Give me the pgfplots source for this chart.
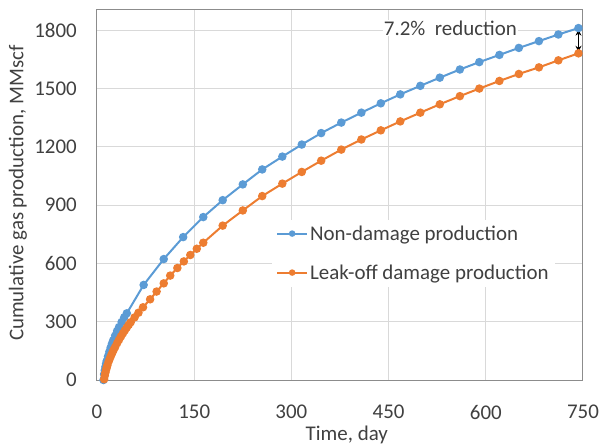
\documentclass[border=0pt]{standalone}
\usepackage{fontspec}
\setmainfont{Carlito}
\usepackage{pgfplots}
\pgfplotsset{compat=1.18}
\usetikzlibrary{arrows.meta}

\definecolor{seriesblue}{HTML}{5B9BD5}
\definecolor{seriesorange}{HTML}{ED7D31}
\definecolor{gridgray}{HTML}{D9D9D9}
\definecolor{textgray}{HTML}{404040}

\pgfplotstableread{
t     q
10    0
11    30
12    50
13    68
14    84
15    98
17    122
19    145
21    166
23    186
25    204
28    228
31    252
34    272
38    298
42    322
46    343
72    489
103   622
133   735
164   838
194   925
225   1006
255   1083
286   1149
316   1211
346   1270
377   1324
408   1375
438   1423
468   1469
499   1513
529   1555
560   1597
590   1635
621   1672
651   1708
682   1743
712   1777
743   1810
}\nondamage

\pgfplotstableread{
t     q
11    4
12    22
13    38
14    52
15    64
16    75
18    95
20    112
22    128
24    143
26    157
28    170
31    189
34    207
37    224
40    240
43    255
46    270
49    284
52    297
58    322
64    346
71    374
82    415
92    455
103   497
113   537
124   576
134   610
144   643
154   675
164   706
194   794
225   872
255   946
286   1010
316   1070
346   1128
377   1185
408   1237
438   1284
468   1330
499   1375
529   1418
560   1460
590   1499
621   1538
651   1574
682   1608
712   1644
743   1680
}\leakoff

\begin{document}
\begin{tikzpicture}[x=1bp,y=1bp]
\path (-97bp,-66bp) rectangle (505bp,380bp);
\begin{axis}[
  at={(0,0)}, anchor=south west,
  scale only axis, width=486bp, height=370bp,
  xmin=0, xmax=750, ymin=0, ymax=1903,
  xtick={0,150,...,750}, ytick={0,300,...,1800},
  grid=major, major grid style={draw=gridgray, line width=1bp},
  major tick length=0pt,
  axis line style={draw=black!45, line width=1bp},
  /pgf/number format/assume math mode=true,
  /pgf/number format/set thousands separator={},
  tick label style={font=\fontsize{21}{25}\selectfont, text=textgray},
  yticklabel style={anchor=east, inner sep=0pt, xshift=-20bp},
  xticklabel style={anchor=north, inner sep=0pt, yshift=-25bp},
  label style={font=\fontsize{21}{25}\selectfont, text=textgray},
  xlabel={Time, day},
  ylabel={Cumulative gas production, MMscf},
  xlabel style={at={(axis description cs:0.514,0)}, anchor=north,
    inner sep=0pt, yshift=-46bp},
  ylabel style={at={(axis description cs:-0.1626,0.505)}, anchor=center},
  legend cell align=left,
  legend style={at={(rel axis cs:0.36,0.343)}, anchor=west, draw=none,
    fill=white, font=\fontsize{21}{25}\selectfont, text=textgray,
    row sep=19bp, inner sep=4bp},
  legend image code/.code={
    \draw[mark repeat=2, mark phase=2, #1, mark size=2.2bp]
      plot coordinates {(0bp,0bp) (15bp,0bp) (30bp,0bp)};
  },
]
\addplot[seriesblue, line width=2bp, mark=*, mark size=3.2bp,
  mark options={fill=seriesblue, draw=seriesblue}]
  table[x=t, y=q] {\nondamage};
\addlegendentry{Non-damage production}
\addplot[seriesorange, line width=2bp, mark=*, mark size=3.2bp,
  mark options={fill=seriesorange, draw=seriesorange}]
  table[x=t, y=q] {\leakoff};
\addlegendentry{Leak-off damage production}

\node[anchor=west, font=\fontsize{21}{25}\selectfont, text=textgray,
  fill=white, inner sep=1bp] at (axis cs:441,1810) {7.2\%\ \ reduction};
\draw[{Stealth[length=6bp,width=6bp]}-{Stealth[length=6bp,width=6bp]},
  line width=1.2bp, black] (axis cs:743,1802) -- (axis cs:743,1688);
\end{axis}
\end{tikzpicture}
\end{document}
